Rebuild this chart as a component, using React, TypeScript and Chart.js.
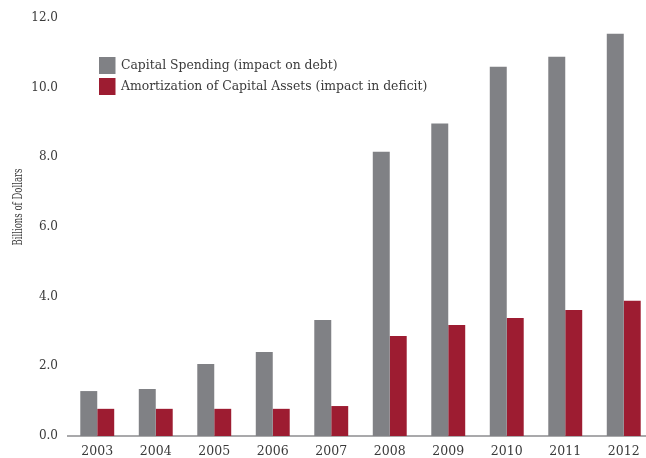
import React, { useEffect, useRef } from "react";
import { Chart, registerables } from "chart.js";

Chart.register(...registerables);

const years = ["2003", "2004", "2005", "2006", "2007", "2008", "2009", "2010", "2011", "2012"];
const capitalSpending = [1.29, 1.35, 2.07, 2.41, 3.33, 8.16, 8.97, 10.6, 10.89, 11.55];
const amortization = [0.78, 0.78, 0.78, 0.78, 0.86, 2.87, 3.19, 3.39, 3.62, 3.88];
const seriesLabels = [
  "Capital Spending (impact on debt)",
  "Amortization of Capital Assets (impact in deficit)",
];
const yTitle = "Billions of Dollars";

const GREY = "#808185";
const RED = "#9d1c31";
const TEXT = "#3a3a3a";
const FONT = "'DejaVu Serif', 'Liberation Serif', serif";

const overlayPlugin = {
  id: "overlay",
  afterDraw(chart: any) {
    const ctx = chart.ctx;
    ctx.save();
    // legend
    const ds = chart.data.datasets;
    ctx.font = `12.4px ${FONT}`;
    ctx.textBaseline = "middle";
    ctx.textAlign = "left";
    ds.forEach((d: any, i: number) => {
      const top = 57 + i * 21;
      ctx.fillStyle = d.backgroundColor;
      ctx.fillRect(99, top, 16.5, 17);
      ctx.fillStyle = TEXT;
      ctx.fillText(d.label, 121, top + 9);
    });
    // y axis title
    ctx.translate(18.5, 207);
    ctx.rotate(-Math.PI / 2);
    ctx.textAlign = "center";
    ctx.font = `13px ${FONT}`;
    ctx.fillStyle = TEXT;
    ctx.fillText(yTitle, 0, 0, 77);
    ctx.restore();
  },
};

export default function App() {
  const ref = useRef<HTMLCanvasElement>(null);
  useEffect(() => {
    document.body.style.overflow = "hidden";
    const chart = new Chart(ref.current as HTMLCanvasElement, {
      type: "bar",
      data: {
        labels: years,
        datasets: [
          { label: seriesLabels[0], data: capitalSpending, backgroundColor: GREY },
          { label: seriesLabels[1], data: amortization, backgroundColor: RED },
        ],
      },
      options: {
        animation: false,
        responsive: true,
        maintainAspectRatio: false,
        layout: { padding: { top: 18, right: 7, bottom: 0, left: 0 } },
        datasets: { bar: { categoryPercentage: 0.58, barPercentage: 1.0 } } as any,
        plugins: {
          legend: { display: false },
          tooltip: { enabled: false },
        },
        scales: {
          x: {
            grid: { display: false, drawTicks: false },
            border: { display: true, color: "#a9a9ab", width: 2 },
            ticks: { color: TEXT, font: { family: FONT, size: 12.5 }, padding: 8, maxRotation: 0 },
            afterFit: (s: any) => {
              s.height = 22;
            },
          },
          y: {
            min: 0,
            max: 12,
            grid: { display: false, drawTicks: false },
            border: { display: false },
            ticks: {
              stepSize: 2,
              color: TEXT,
              padding: 10,
              font: { family: FONT, size: 12 },
              callback: (v: any) => Number(v).toFixed(1),
            },
            afterFit: (s: any) => {
              s.width = 68;
            },
          },
        },
      },
      plugins: [overlayPlugin],
    });
    return () => chart.destroy();
  }, []);
  return (
    <div style={{ position: "fixed", left: 0, top: 0, width: 660, height: 458 }}>
      <canvas ref={ref} />
    </div>
  );
}
